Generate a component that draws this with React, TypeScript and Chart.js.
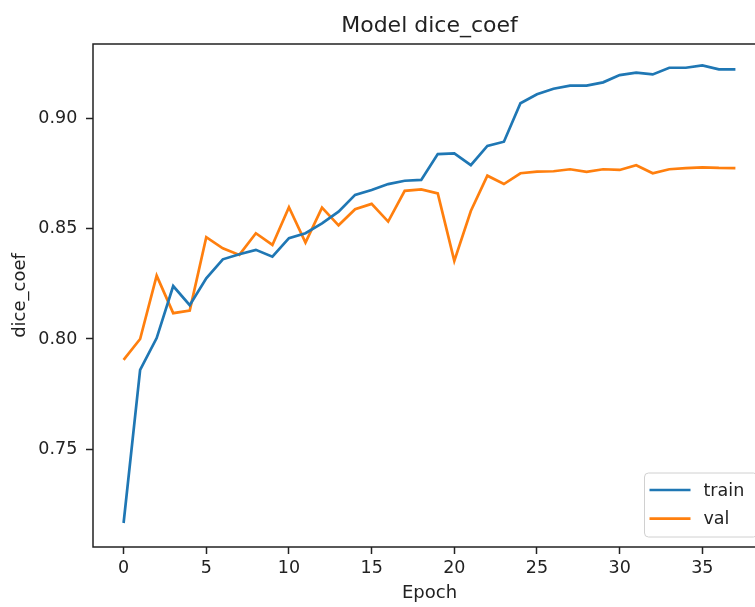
import React, { useEffect, useRef } from "react";
import { Chart, registerables } from "chart.js";

Chart.register(...registerables);

const epochs = [0, 1, 2, 3, 4, 5, 6, 7, 8, 9, 10, 11, 12, 13, 14, 15, 16, 17, 18, 19, 20, 21, 22, 23, 24, 25, 26, 27, 28, 29, 30, 31, 32, 33, 34, 35, 36, 37];

const trainValues = [
  0.7166, 0.786, 0.8004, 0.824, 0.8153, 0.8275, 0.8361, 0.8384, 0.8404, 0.8373,
  0.8457, 0.8479, 0.8524, 0.8577, 0.8653, 0.8675, 0.8702, 0.8717, 0.8721, 0.8838,
  0.8841, 0.8788, 0.8875, 0.8894, 0.9068, 0.9109, 0.9134, 0.9148, 0.9148, 0.9163,
  0.9196, 0.9207, 0.9199, 0.9229, 0.9229, 0.924, 0.9222, 0.9222,
];

const valValues = [
  0.7905, 0.8, 0.8287, 0.8117, 0.8129, 0.8461, 0.8411, 0.8381, 0.8479, 0.8426,
  0.8597, 0.8437, 0.8595, 0.8515, 0.8588, 0.8612, 0.8532, 0.8671, 0.8678, 0.866,
  0.8354, 0.858, 0.874, 0.8702, 0.8751, 0.8758, 0.876, 0.8769, 0.8757, 0.8769,
  0.8766, 0.8787, 0.8751, 0.8769, 0.8774, 0.8778, 0.8775, 0.8774,
];

const seriesNames = ["train", "val"];
const xTickValues = [0, 5, 10, 15, 20, 25, 30, 35];
const yTickValues = [0.75, 0.8, 0.85, 0.9];

const chartTitle = "Model dice_coef";
const xAxisTitle = "Epoch";
const yAxisTitle = "dice_coef";

const FONT = "'DejaVu Sans', 'Liberation Sans', sans-serif";
const TEXT = "#222222";
const BLUE = "#1f77b4";
const ORANGE = "#ff7f0e";

const framePlugin = {
  id: "frame",
  afterDatasetsDraw(chart: any) {
    const { ctx, chartArea } = chart;
    ctx.save();
    ctx.strokeStyle = "#222222";
    ctx.lineWidth = 1.5;
    ctx.strokeRect(chartArea.left, chartArea.top, chartArea.right - chartArea.left, chartArea.bottom - chartArea.top);
    ctx.restore();
  },
};

const titlePlugin = {
  id: "mplTitle",
  afterDraw(chart: any) {
    const { ctx, chartArea } = chart;
    ctx.save();
    ctx.font = `22px ${FONT}`;
    ctx.fillStyle = TEXT;
    ctx.textAlign = "center";
    ctx.textBaseline = "alphabetic";
    ctx.fillText(chartTitle, (chartArea.left + chartArea.right) / 2, chartArea.top - 12);
    ctx.restore();
  },
};

const legendPlugin = {
  id: "mplLegend",
  afterDraw(chart: any) {
    const { ctx, chartArea } = chart;
    const w = 113;
    const h = 64;
    const x = chartArea.right - 8.5 - w;
    const y = chartArea.bottom - 10 - h;
    ctx.save();
    ctx.fillStyle = "rgba(255,255,255,0.8)";
    ctx.strokeStyle = "#d0d0d0";
    ctx.lineWidth = 1;
    ctx.beginPath();
    const r = 4;
    ctx.moveTo(x + r, y);
    ctx.lineTo(x + w - r, y);
    ctx.quadraticCurveTo(x + w, y, x + w, y + r);
    ctx.lineTo(x + w, y + h - r);
    ctx.quadraticCurveTo(x + w, y + h, x + w - r, y + h);
    ctx.lineTo(x + r, y + h);
    ctx.quadraticCurveTo(x, y + h, x, y + h - r);
    ctx.lineTo(x, y + r);
    ctx.quadraticCurveTo(x, y, x + r, y);
    ctx.closePath();
    ctx.fill();
    ctx.stroke();
    const colors = [BLUE, ORANGE];
    seriesNames.forEach((name, i) => {
      const ly = y + 17 + i * 28.7;
      ctx.strokeStyle = colors[i];
      ctx.lineWidth = 2.7;
      ctx.beginPath();
      ctx.moveTo(x + 5, ly);
      ctx.lineTo(x + 46, ly);
      ctx.stroke();
      ctx.fillStyle = TEXT;
      ctx.font = `17.5px ${FONT}`;
      ctx.textAlign = "left";
      ctx.textBaseline = "middle";
      ctx.fillText(name, x + 59, ly + 1);
    });
    ctx.restore();
  },
};

export default function App() {
  const canvasRef = useRef<HTMLCanvasElement | null>(null);

  useEffect(() => {
    if (!canvasRef.current) return;
    const chart = new Chart(canvasRef.current, {
      type: "line",
      data: {
        datasets: [
          {
            label: seriesNames[0],
            data: epochs.map((e, i) => ({ x: e, y: trainValues[i] })),
            borderColor: BLUE,
            backgroundColor: BLUE,
            borderWidth: 2.7,
            pointRadius: 0,
            tension: 0,
            fill: false,
          },
          {
            label: seriesNames[1],
            data: epochs.map((e, i) => ({ x: e, y: valValues[i] })),
            borderColor: ORANGE,
            backgroundColor: ORANGE,
            borderWidth: 2.7,
            pointRadius: 0,
            tension: 0,
            fill: false,
          },
        ],
      },
      options: {
        animation: false,
        responsive: false,
        maintainAspectRatio: false,
        layout: { padding: { top: 44, left: 0, right: 14, bottom: 0 } },
        plugins: {
          legend: { display: false },
          title: { display: false },
          tooltip: { enabled: false },
        },
        scales: {
          x: {
            type: "linear",
            min: -1.85,
            max: 38.85,
            afterBuildTicks: (scale: any) => {
              scale.ticks = xTickValues.map((v) => ({ value: v }));
            },
            afterFit: (scale: any) => {
              scale.height = 60;
            },
            ticks: {
              color: TEXT,
              font: { family: FONT, size: 17.5 },
              padding: 4,
              maxRotation: 0,
              autoSkip: false,
              callback: (v: any) => String(v),
            },
            grid: {
              display: true,
              drawOnChartArea: false,
              drawTicks: true,
              tickLength: 7,
              tickColor: "#222222",
              tickWidth: 1.5,
            },
            border: { display: false },
            title: {
              display: true,
              text: xAxisTitle,
              color: TEXT,
              font: { family: FONT, size: 18 },
              padding: { top: 0, bottom: 3 },
            },
          },
          y: {
            type: "linear",
            min: 0.70573,
            max: 0.93367,
            afterBuildTicks: (scale: any) => {
              scale.ticks = yTickValues.map((v) => ({ value: v }));
            },
            afterFit: (scale: any) => {
              scale.width = 93;
            },
            ticks: {
              color: TEXT,
              font: { family: FONT, size: 17.5 },
              padding: 8.7,
              autoSkip: false,
              callback: (v: any) => Number(v).toFixed(2),
            },
            grid: {
              display: true,
              drawOnChartArea: false,
              drawTicks: true,
              tickLength: 7,
              tickColor: "#222222",
              tickWidth: 1.5,
            },
            border: { display: false },
            title: {
              display: true,
              text: yAxisTitle,
              color: TEXT,
              font: { family: FONT, size: 18 },
              padding: { top: 9.5, bottom: 0 },
            },
          },
        },
      },
      plugins: [framePlugin, titlePlugin, legendPlugin],
    });
    return () => chart.destroy();
  }, []);

  return (
    <div
      style={{
        position: "fixed",
        left: 0,
        top: 0,
        width: 755,
        height: 607,
        overflow: "hidden",
        background: "#ffffff",
      }}
    >
      <canvas ref={canvasRef} width={780} height={607} style={{ display: "block" }} />
    </div>
  );
}
